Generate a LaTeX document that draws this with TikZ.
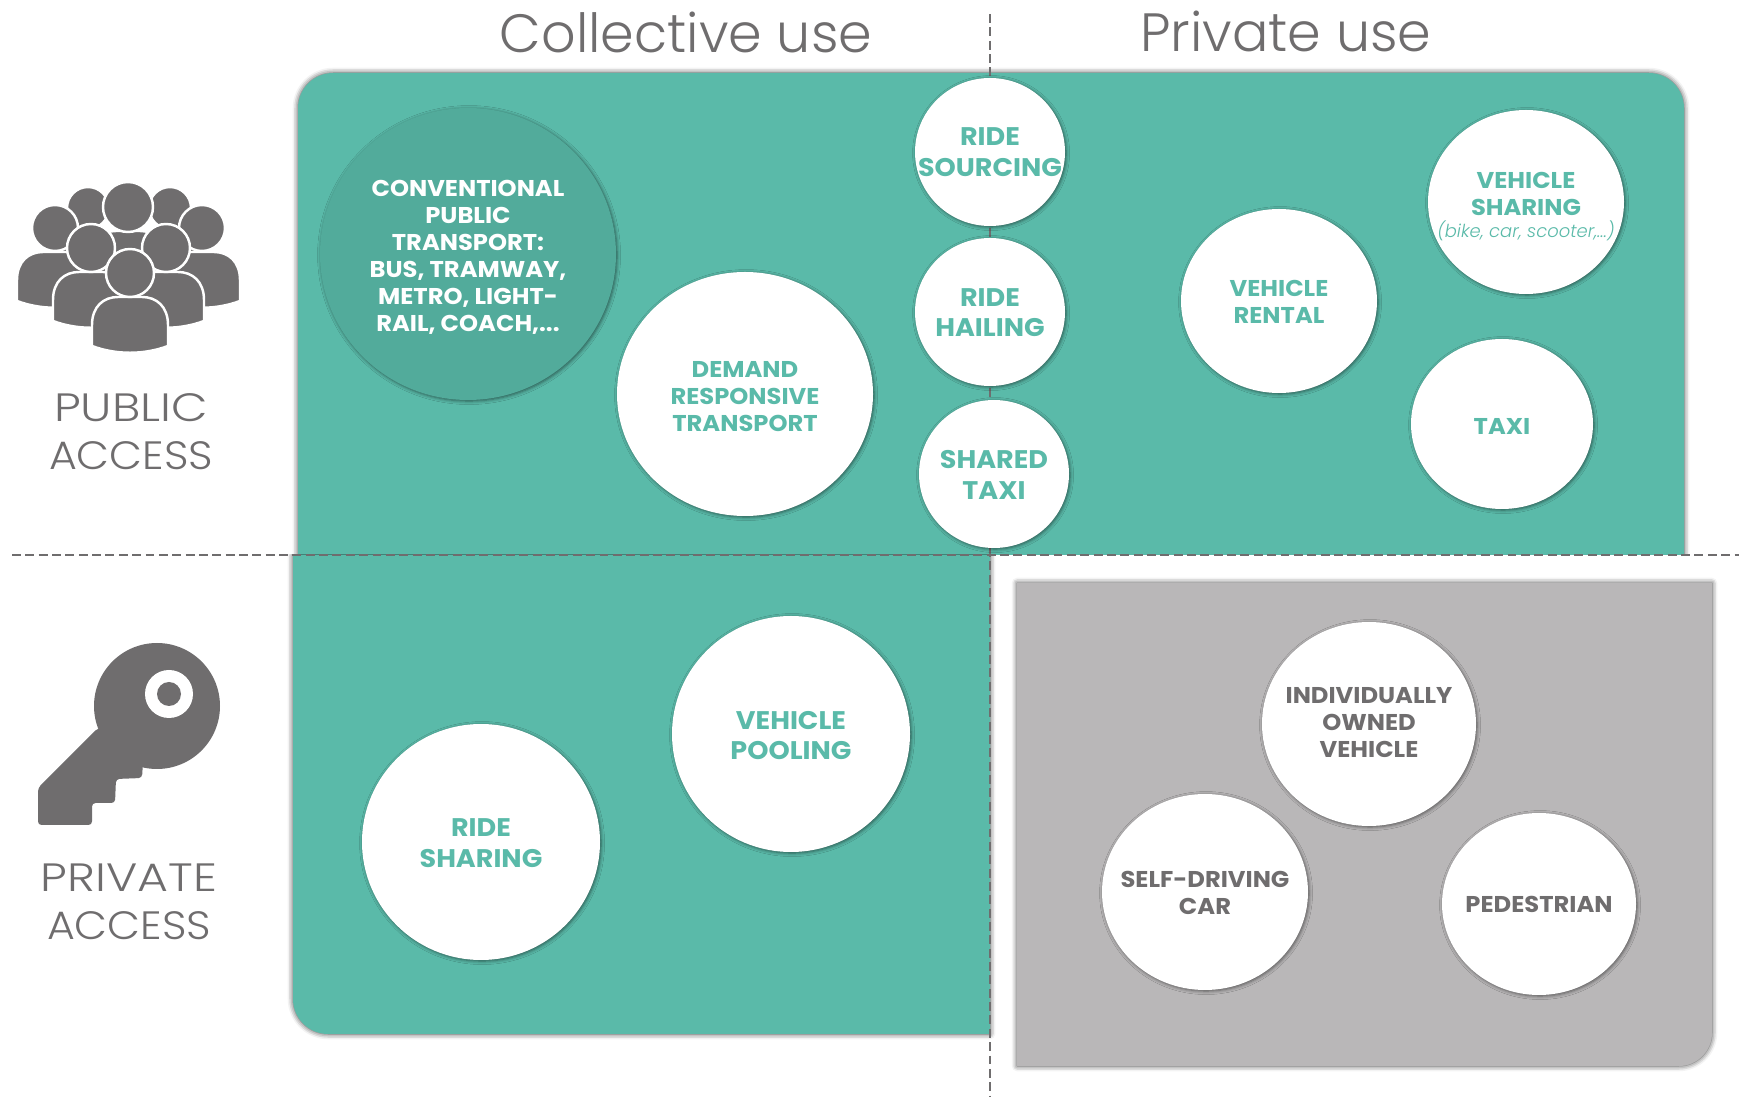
\documentclass[tikz,border=0pt]{standalone}
\usepackage{fontspec}
\setmainfont{Poppins}[BoldFont=Poppins Bold, BoldFeatures={FakeStretch=1.06}]
\newfontfamily\lightfont{Poppins Light}[ItalicFont=Poppins Light Italic]
\newfontfamily\accessfont{Poppins Light}[FakeStretch=1.2]
\newfontfamily\accessround{Poppins Light}[FakeStretch=1.08]
\usetikzlibrary{shapes.geometric,shadows.blur}
\definecolor{tealpanel}{HTML}{5ABAA9}
\definecolor{tealdark}{HTML}{52AB9B}
\definecolor{greypanel}{HTML}{B9B7B8}
\definecolor{greytext}{HTML}{6F6D6E}
\newcommand{\topgap}[1]{\rule{0pt}{#1}}
\newcommand{\crowdperson}[3]{
    \fill[greytext, draw=white, line width=1.4pt] (#1-38,#2+80) -- (#1-38,#2+52)
        .. controls (#1-38,#2+33) and (#1-26,#2+24) .. (#1-12,#2+24) -- (#1+12,#2+24)
        .. controls (#1+26,#2+24) and (#1+38,#2+33) .. (#1+38,#2+52) -- (#1+38,#2+73)
        .. controls (#1+14,#2+82) and (#1-14,#2+82) .. (#1-38,#2+73) -- cycle;
    \fill[greytext, draw=white, line width=1.4pt] (#1,#2) circle (#3);
}
\begin{document}
\begin{tikzpicture}[
    x=0.02cm, y=-0.02cm,
    panelshadow/.style={blur shadow={shadow xshift=0pt, shadow yshift=0pt,
        shadow blur radius=3pt, shadow opacity=75}},
    bubble/.style 2 args={ellipse, fill=white, inner sep=-20pt, align=center,
        minimum width=#1*0.02cm, minimum height=#2*0.02cm,
        blur shadow={shadow xshift=.6pt, shadow yshift=-.6pt,
        shadow blur radius=2pt, shadow opacity=55}},
    smalltext/.style={text=tealpanel, font=\fontsize{13}{15.4}\selectfont\bfseries},
    bigtext/.style={text=tealpanel, font=\fontsize{14.5}{17.3}\selectfont\bfseries},
    greylabel/.style={text=greytext, font=\fontsize{13}{15.4}\selectfont\bfseries},
    access/.style={text=greytext, align=center, font=\fontsize{22.5}{27.3}\selectfont\accessfont},
    usetitle/.style={text=greytext, font=\fontsize{30.7}{36}\selectfont\lightfont},
    divider/.style={draw=greytext, line width=1.6pt, dash pattern=on 5.1pt off 2.5pt}
]
    \useasboundingbox (0,0) rectangle (1739,1097);

    % panels
    \begin{scope}
        \clip (0,0) rectangle (1739,555);
        \path[fill=tealpanel, panelshadow] (298,555) [rounded corners=20pt] -- (298,73)
            -- (1684,73) [sharp corners] -- (1684,555) -- cycle;
    \end{scope}
    \begin{scope}
        \clip (0,555) rectangle (1739,1097);
        \path[fill=tealpanel, panelshadow] (293,555) [rounded corners=20pt] -- (293,1034)
            [sharp corners] -- (990,1034) -- (990,555) -- cycle;
    \end{scope}
    \path[fill=greypanel, panelshadow] (1017,583) -- (1712,583)
        [rounded corners=19pt] -- (1712,1066) [sharp corners] -- (1017,1066) -- cycle;

    % quadrant lines
    \coordinate (hleft) at (12,555);
    \coordinate (hright) at (1739,555);
    \coordinate (vtop) at (990,14);
    \coordinate (vbottom) at (990,1097);
    \draw[divider] (hleft) -- (hright);
    \draw[divider] (vtop) -- (vbottom);

    \node[usetitle] (collective) at (686,32) {Collective use};
    \node[usetitle] (private) at (1286,31) {Private use};
    \node[access] (publicaccess) at (131,432) {PUBLIC\\{\accessround ACCESS}};
    \node[access] (privateaccess) at (129,902) {PRIVATE\\{\accessround ACCESS}};

    % crowd icon
    \begin{scope}
        \crowdperson{88}{208}{21}
        \crowdperson{170}{208}{21}
        \crowdperson{128}{207}{25}
        \crowdperson{55}{228}{23}
        \crowdperson{202}{228}{23}
        \crowdperson{91}{248}{24}
        \crowdperson{166}{248}{24}
        \crowdperson{130}{273}{24}
    \end{scope}

    % key icon
    \fill[greytext] (157,706) circle (63);
    \fill[greytext, rounded corners=2pt] (98,728) -- (38,788) -- (38,825) -- (92,825) -- (92,803)
        -- (115,803) -- (116,779) -- (142,778) -- (143,762) -- (170,730) -- cycle;
    \fill[white] (169,694) circle (24);
    \fill[greytext] (169,694) circle (12);

    % public access
    \node[bubble={296}{292}, fill=tealdark, text=white,
        font=\fontsize{13}{15.4}\selectfont\bfseries] (conventional) at (468,254)
        {\topgap{13.1pt}CONVENTIONAL\\PUBLIC\\TRANSPORT:\\BUS, TRAMWAY,\\METRO, LIGHT-\\RAIL, COACH,...};
    \node[bubble={256}{244}, smalltext] (demand) at (745,394) {\topgap{11.8pt}DEMAND\\RESPONSIVE\\TRANSPORT};
    \node[bubble={150}{148}, bigtext] (sourcing) at (990,152) {RIDE\\SOURCING};
    \node[bubble={150}{148}, bigtext] (hailing) at (990,312) {\topgap{11pt}RIDE\\HAILING};
    \node[bubble={150}{148}, bigtext] (sharedtaxi) at (994,474) {\topgap{11.6pt}SHARED\\TAXI};
    \node[bubble={196}{184}, smalltext] (rental) at (1279,301) {\topgap{10.6pt}VEHICLE\\RENTAL};
    \node[bubble={196}{184}, smalltext] (vehiclesharing) at (1526,202)
        {\topgap{14.3pt}VEHICLE\\SHARING\\[-2.5pt]{\fontsize{10.2}{12}\selectfont\lightfont\mdseries\itshape (bike, car, scooter,...)}};
    \node[bubble={182}{170}, smalltext] (taxi) at (1502,424) {\topgap{11.8pt}TAXI};

    % private access
    \node[bubble={238}{236}, bigtext] (pooling) at (791,734) {\topgap{12.2pt}VEHICLE\\POOLING};
    \node[bubble={238}{236}, bigtext] (ridesharing) at (481,842) {\topgap{11.6pt}RIDE\\SHARING};
    \node[bubble={214}{204}, greylabel] (owned) at (1369,724) {INDIVIDUALLY\\OWNED\\VEHICLE\rule[-2pt]{0pt}{2pt}};
    \node[bubble={206}{196}, greylabel] (selfdriving) at (1205,892) {\topgap{10.6pt}SELF-DRIVING\\CAR};
    \node[bubble={194}{182}, greylabel] (pedestrian) at (1539,904) {PEDESTRIAN};
\end{tikzpicture}
\end{document}
